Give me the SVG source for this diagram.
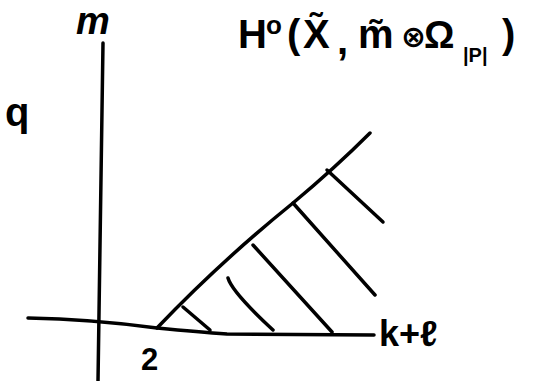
<svg xmlns="http://www.w3.org/2000/svg" width="537" height="381" viewBox="0 0 537 381">
<style>
.ln{fill:none;stroke:#000;stroke-width:3.5;stroke-linecap:round;stroke-linejoin:round}
.tx{font-family:"Liberation Sans","DejaVu Sans",sans-serif;fill:#000;font-weight:bold}
</style>
<rect width="537" height="381" fill="#fff"/>
<g id="axes">
<path class="ln" d="M103,43 Q100,200 98,381"/>
<path class="ln" d="M28,318 Q90,319 157,328 Q200,332 227,334 L374,335"/>
</g>
<g id="region">
<path class="ln" d="M157,328 Q220,262 293,203 Q335,168 370,133"/>
<path class="ln" d="M183,307 L210,330"/>
<path class="ln" d="M228,278 Q232,292 273,330"/>
<path class="ln" d="M253,245 L332,332"/>
<path class="ln" d="M293,203 L375,295"/>
<path class="ln" d="M327,170 L383,222"/>
</g>
<g id="labels">
<text class="tx" x="76" y="34" font-size="38" font-style="italic" font-family="Liberation Serif, serif">m</text>
<text class="tx" x="5" y="126" font-size="40">q</text>
<text class="tx" x="141" y="370" font-size="31">2</text>
<text class="tx" x="379" y="346" font-size="36">k+ℓ</text>
<text class="tx" font-size="40"><tspan x="238" y="48">H</tspan><tspan x="266" y="34" font-size="26">o</tspan><tspan x="287" y="48">(</tspan><tspan x="303" y="48">X̃</tspan><tspan x="337" y="54">,</tspan><tspan x="358" y="48">m̃</tspan><tspan x="401" y="47" font-size="30">⊗</tspan><tspan x="424" y="48" font-size="38">Ω</tspan><tspan x="463" y="62" font-size="20">|P|</tspan><tspan x="502" y="48">)</tspan></text>
</g>
</svg>
